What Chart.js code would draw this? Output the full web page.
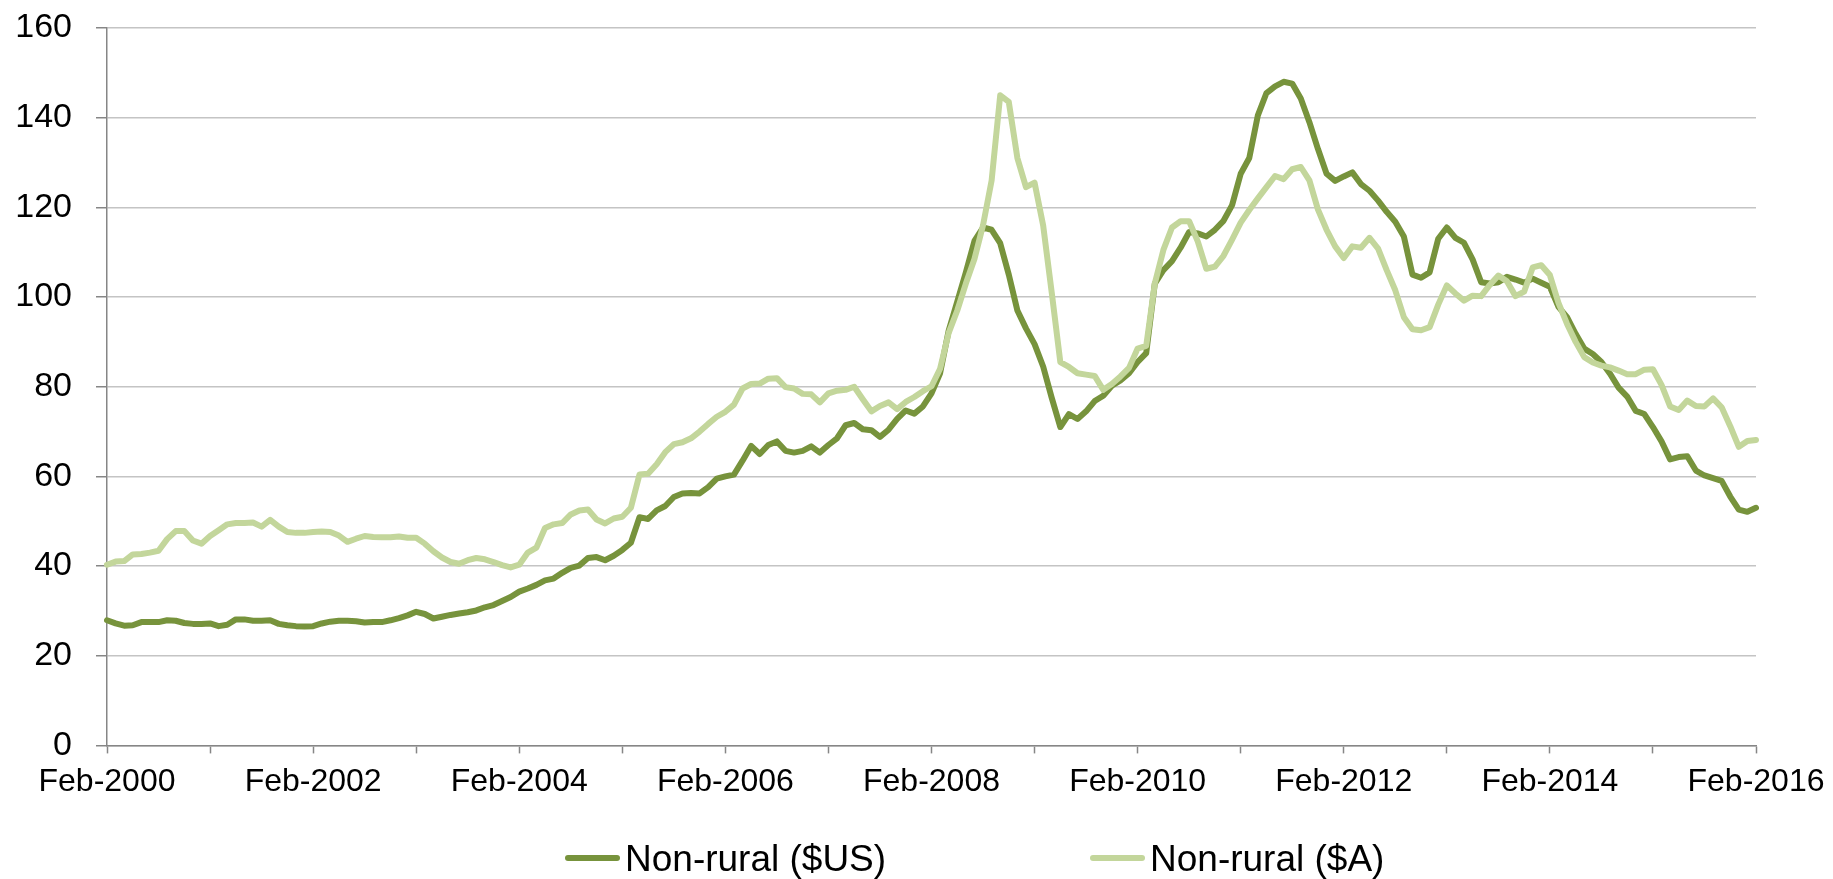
<!DOCTYPE html>
<html>
<head>
<meta charset="utf-8">
<script src="https://cdn.jsdelivr.net/npm/chart.js@4.4.1/dist/chart.umd.min.js"></script>
<style>
  html, body { margin: 0; padding: 0; background: #fff; }
  #wrap { width: 1833px; height: 879px; position: relative; }
  .leg-linha { position: absolute; height: 6px; width: 55px; border-radius: 3px; }
  .leg-texto {
    position: absolute; font-family: 'Liberation Sans', Arial, sans-serif;
    font-size: 37px; line-height: 37px; color: #000; white-space: nowrap;
  }
</style>
</head>
<body>
<div id="wrap"><canvas id="grafico"></canvas></div>
<script>
// Meses de Feb-2000 a Feb-2016 (193 pontos)
const mesesNomes = ["Jan", "Feb", "Mar", "Apr", "May", "Jun", "Jul", "Aug", "Sep", "Oct", "Nov", "Dec"];
const meses = [];
for (let k = 0; k < 193; k++) {
  const m = (1 + k) % 12;
  const ano = 2000 + Math.floor((1 + k) / 12);
  meses.push(mesesNomes[m] + "-" + ano);
}

// Non-rural ($US)
const naoRuralUS = [
  27.9, 27.2, 26.7, 26.8, 27.5, 27.5, 27.5, 27.9, 27.8, 27.3, 27.1, 27.1,
  27.2, 26.6, 26.9, 28.1, 28.1, 27.8, 27.8, 27.9, 27.1, 26.8, 26.6, 26.5,
  26.6, 27.2, 27.6, 27.8, 27.8, 27.7, 27.4, 27.5, 27.5, 27.9, 28.4, 29.0,
  29.8, 29.3, 28.3, 28.7, 29.1, 29.4, 29.7, 30.1, 30.8, 31.3, 32.2, 33.1,
  34.3, 35.0, 35.8, 36.8, 37.2, 38.5, 39.6, 40.1, 41.8, 42.0, 41.3, 42.3,
  43.6, 45.2, 50.9, 50.5, 52.4, 53.4, 55.4, 56.2, 56.3, 56.2, 57.6, 59.5,
  60.0, 60.4, 63.5, 66.8, 65.0, 67.0, 67.8, 65.7, 65.3, 65.7, 66.7, 65.3,
  67.0, 68.5, 71.4, 71.9, 70.5, 70.3, 68.8, 70.4, 72.8, 74.7, 74.0, 75.6,
  78.5, 83.0, 92.5, 99.0, 105.5, 112.5, 115.5, 115.0, 112.0, 105.0, 97.0, 93.0,
  89.5, 84.5, 77.5, 71.0, 73.9, 72.8, 74.5, 76.8, 78.0, 80.2, 81.4, 83.0,
  85.5, 87.5, 103.0, 106.0, 108.0, 111.0, 114.5, 114.2, 113.5, 115.0, 117.0, 120.5,
  127.5, 131.0, 140.5, 145.5, 147.0, 148.0, 147.6, 144.3, 139.0, 133.0, 127.5, 125.9,
  126.9, 127.8, 125.2, 123.7, 121.5, 119.0, 116.8, 113.5, 105.0, 104.3, 105.5, 113.0,
  115.5, 113.2, 112.1, 108.4, 103.3, 103.0, 103.3, 104.5, 103.9, 103.2, 104.1, 103.2,
  102.3, 97.8, 95.5, 91.8, 88.5, 87.3, 85.5, 82.9, 79.8, 77.8, 74.6, 73.9,
  71.0, 67.8, 63.8, 64.3, 64.5, 61.3, 60.2, 59.6, 59.0, 55.5, 52.6, 52.1,
  53.0
];

// Non-rural ($A)
const naoRuralA = [
  40.3, 41.0, 41.1, 42.6, 42.7, 43.0, 43.4, 46.0, 47.8, 47.8, 45.7, 45.0,
  46.7, 48.0, 49.3, 49.6, 49.6, 49.7, 48.8, 50.3, 48.8, 47.6, 47.4, 47.4,
  47.6, 47.7, 47.6, 46.8, 45.4, 46.1, 46.7, 46.5, 46.4, 46.4, 46.6, 46.3,
  46.3, 45.0, 43.3, 41.9, 40.9, 40.5, 41.3, 41.8, 41.5, 40.9, 40.2, 39.7,
  40.3, 43.0, 44.1, 48.5, 49.3, 49.6, 51.5, 52.4, 52.6, 50.4, 49.5, 50.6,
  51.0, 53.0, 60.4, 60.6, 62.7, 65.4, 67.2, 67.6, 68.5, 70.0, 71.7, 73.3,
  74.4, 76.0, 79.6, 80.6, 80.7, 81.8, 81.9, 79.9, 79.6, 78.4, 78.3, 76.5,
  78.5, 79.1, 79.3, 80.0, 77.2, 74.5, 75.7, 76.5, 75.0, 76.6, 77.7, 79.0,
  80.1, 84.0, 92.0, 97.0, 103.0, 108.5, 116.0, 126.0, 145.0, 143.5, 131.0, 124.5,
  125.5, 116.0, 101.0, 85.5, 84.4, 83.0, 82.7, 82.4, 79.3, 80.6, 82.3, 84.2,
  88.5, 89.1, 103.0, 110.5, 115.5, 116.9, 116.9, 112.4, 106.3, 106.8, 109.2, 112.8,
  116.6, 119.4, 122.0, 124.5, 127.0, 126.3, 128.5, 129.0, 126.0, 119.5, 115.0, 111.3,
  108.7, 111.3, 111.0, 113.2, 110.8, 106.0, 101.5, 95.5, 92.8, 92.6, 93.3, 98.3,
  102.6, 100.8, 99.2, 100.3, 100.2, 102.7, 104.8, 103.5, 100.2, 101.2, 106.6, 107.1,
  104.9, 98.7, 94.0, 90.0, 86.6, 85.4, 84.7, 84.3, 83.6, 82.8, 82.8, 83.8,
  83.9, 80.4, 75.6, 74.8, 76.9, 75.7, 75.6, 77.4, 75.4, 71.2, 66.6, 67.9,
  68.1
];

const ticksY = [0, 20, 40, 60, 80, 100, 120, 140, 160];

const fonte = "'Liberation Sans', Arial, sans-serif";

const ctx = document.getElementById("grafico").getContext("2d");
const grafico = new Chart(ctx, {
  type: "line",
  data: {
    labels: meses,
    datasets: [
      {
        label: "Non-rural ($US)",
        data: naoRuralUS,
        borderColor: "#77933c",
        backgroundColor: "#77933c",
        borderWidth: 6,
        borderCapStyle: "round",
        borderJoinStyle: "round",
        pointRadius: 0,
        tension: 0,
        order: 1
      },
      {
        label: "Non-rural ($A)",
        data: naoRuralA,
        borderColor: "#c3d69b",
        backgroundColor: "#c3d69b",
        borderWidth: 6,
        borderCapStyle: "round",
        borderJoinStyle: "round",
        pointRadius: 0,
        tension: 0,
        order: 0
      }
    ]
  },
  options: {
    responsive: true,
    maintainAspectRatio: false,
    animation: false,
    layout: { padding: { left: 0, right: 77, top: 28, bottom: 0 } },
    plugins: {
      tooltip: { enabled: false },
      legend: { display: false }
    },
    scales: {
      x: {
        type: "category",
        offset: false,
        border: { display: true, color: "#868686", width: 1.5 },
        grid: {
          drawOnChartArea: false,
          drawTicks: true,
          tickLength: 8,
          tickWidth: 1.5,
          tickColor: (c) => (c.index % 12 === 0 ? "#868686" : "rgba(0,0,0,0)")
        },
        ticks: {
          autoSkip: false,
          maxRotation: 0,
          minRotation: 0,
          padding: 10,
          color: "#000",
          font: { family: fonte, size: 32 },
          callback: function (valor, indice) {
            return indice % 24 === 0 ? meses[indice] : "";
          }
        },
        afterFit: (scale) => {
          scale.height = 133.6;
          scale.paddingLeft = 0;
          scale.paddingRight = 0;
        }
      },
      y: {
        min: 0,
        max: 160,
        afterBuildTicks: (scale) => {
          scale.ticks = ticksY.map((v) => ({ value: v }));
        },
        border: { display: true, color: "#868686", width: 1.5 },
        grid: {
          color: "#c4c4c4",
          lineWidth: 1.5,
          tickLength: 11,
          tickColor: "#868686",
          tickWidth: 1.5
        },
        ticks: {
          padding: 24,
          color: "#000",
          font: { family: fonte, size: 34 }
        },
        afterFit: (scale) => {
          scale.width = 107;
          scale.paddingTop = 0;
          scale.paddingBottom = 0;
        }
      }
    }
  }
});

// Legenda em HTML, montada a partir das séries do gráfico
const posLegenda = [565, 1090];
grafico.data.datasets.forEach((ds, i) => {
  const wrap = document.getElementById("wrap");
  const linha = document.createElement("div");
  linha.className = "leg-linha";
  linha.style.left = posLegenda[i] + "px";
  linha.style.top = "855px";
  linha.style.background = ds.borderColor;
  wrap.appendChild(linha);

  const texto = document.createElement("div");
  texto.className = "leg-texto";
  texto.style.left = (posLegenda[i] + 60) + "px";
  texto.style.top = "840px";
  texto.textContent = ds.label;
  wrap.appendChild(texto);
});
</script>
</body>
</html>
